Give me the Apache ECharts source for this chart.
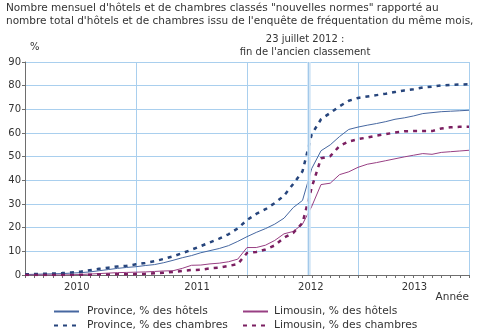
<!DOCTYPE html>
<html>
<head>
<meta charset="utf-8">
<script src="https://cdn.jsdelivr.net/npm/echarts@6/dist/echarts.min.js"></script>
<style>
  html, body { margin: 0; padding: 0; background: #fff; }
  #chart { width: 480px; height: 333px; }
</style>
</head>
<body>
<div id="chart"></div>
<script>
// Monthly shares (%) of hotels / rooms classified under the new standards,
// one value per month, index 0 = January 2010, index 48 = January 2014.
const provinceHotels = [
  0.2, 0.3, 0.4, 0.5, 0.6, 0.8, 1.0, 1.3, 1.8, 2.3, 2.8, 3.2,
  3.5, 4.0, 4.4, 5.2, 6.2, 7.3, 8.2, 9.4, 10.3, 11.2, 12.4, 14.2,
  16.2, 18.0, 19.6, 21.5, 24.0, 28.5, 31.5, 45.0, 52.5, 55.0, 58.5, 61.5,
  62.5, 63.3, 64.0, 64.8, 65.8, 66.4, 67.2, 68.2, 68.6, 69.0, 69.2, 69.4,
  69.6
];
const provinceRooms = [
  0.3, 0.4, 0.5, 0.6, 0.8, 1.1, 1.4, 2.0, 2.6, 3.1, 3.6, 3.9,
  4.5, 5.1, 5.8, 6.8, 7.9, 9.2, 10.7, 12.2, 13.8, 15.4, 17.2, 19.7,
  23.2, 25.8, 27.8, 30.4, 33.5, 38.5, 43.8, 59.5, 65.8, 68.5, 71.3, 73.6,
  74.8, 75.4, 76.0, 76.6, 77.3, 78.0, 78.5, 79.2, 79.6, 80.1, 80.3, 80.5,
  80.6
];
const limousinHotels = [
  0.0, 0.0, 0.0, 0.0, 0.0, 0.1, 0.2, 0.4, 0.6, 0.8, 1.0, 1.1,
  1.2, 1.3, 1.5, 1.7, 1.8, 2.8, 4.1, 4.2, 4.7, 5.0, 5.6, 6.7,
  11.6, 11.6, 12.6, 14.6, 17.4, 18.4, 21.5, 29.0, 38.2, 38.8, 42.4, 43.6,
  45.5, 46.8, 47.5, 48.3, 49.1, 49.9, 50.6, 51.3, 51.0, 51.8, 52.1, 52.4,
  52.7
];
const limousinRooms = [
  0.0, 0.0, 0.0, 0.0, 0.0, 0.0, 0.1, 0.1, 0.2, 0.2, 0.3, 0.3,
  0.4, 0.5, 0.7, 0.9, 1.3, 1.7, 2.1, 2.2, 2.8, 3.1, 3.8, 4.6,
  9.3, 9.7, 10.8, 12.5, 15.8, 17.8, 22.0, 37.0, 49.3, 50.2, 54.5, 56.4,
  57.4, 58.1, 58.9, 59.5, 60.2, 60.7, 60.8, 60.8, 60.8, 61.9, 62.4, 62.6,
  62.6
];

// Year labels and where they sit on the month scale
const yearLabels = ['2010', '2011', '2012', '2013'];
const yearLabelPos = [5.6, 18.6, 30.9, 42.1];
// 23 July 2012 on the month scale
const reformDate = 30.71;
const reformText = ['23 juillet 2012 :', "fin de l'ancien classement"];

const seriesNames = [
  'Province, % des hôtels',
  'Province, % des chambres',
  'Limousin, % des hôtels',
  'Limousin, % des chambres'
];

const FONT = 'DejaVu Sans, Verdana, sans-serif';
const TEXT = '#333333';
const GRID = '#a9cfee';
const AXIS = '#6e6e6e';

function toPairs(values) {
  return values.map((v, i) => [i, v]);
}

const chart = echarts.init(document.getElementById('chart'), null, { renderer: 'canvas' });

function lineSeries(name, values, color, dashed) {
  return {
    name: name,
    type: 'line',
    xAxisIndex: 0,
    yAxisIndex: 0,
    data: toPairs(values),
    symbol: 'none',
    smooth: false,
    silent: true,
    z: dashed ? 4 : 3,
    lineStyle: dashed
      ? { color: color, width: 2.5, type: [4, 5] }
      : { color: color, width: 1, type: 'solid' },
    itemStyle: { color: color },
    emphasis: { disabled: true }
  };
}

const series = [
  lineSeries(seriesNames[0], provinceHotels, '#4667a0', false),
  lineSeries(seriesNames[1], provinceRooms, '#27457c', true),
  lineSeries(seriesNames[2], limousinHotels, '#983f83', false),
  lineSeries(seriesNames[3], limousinRooms, '#7b1f61', true)
];

// Band marking the end of the old classification
series[0].markLine = {
  silent: true,
  symbol: 'none',
  animation: false,
  data: [
    {
      xAxis: reformDate,
      lineStyle: { color: '#d3e6f6', width: 3.5, type: 'solid' },
      label: {
        show: true,
        position: 'end',
        distance: 3,
        formatter: reformText.join('\n'),
        color: TEXT,
        fontFamily: FONT,
        fontSize: 10,
        lineHeight: 13,
        padding: [0, 8, 0, 0]
      }
    },
    {
      xAxis: reformDate - 0.08,
      lineStyle: { color: '#a3c9ea', width: 1, type: 'solid' },
      label: { show: false }
    }
  ]
};

const legendBase = {
  orient: 'vertical',
  top: 306,
  padding: 0,
  itemWidth: 25,
  itemHeight: 10,
  itemGap: 3,
  selectedMode: false,
  // keep only the line sample, no marker dot
  itemStyle: { opacity: 0 }
};

const option = {
  animation: false,
  backgroundColor: '#ffffff',
  textStyle: { fontFamily: FONT },
  title: {
    text: 'Nombre mensuel d\'hôtels et de chambres classés "nouvelles normes" rapporté au\n' +
          'nombre total d\'hôtels et de chambres issu de l\'enquête de fréquentation du même mois,',
    left: 6,
    top: 2,
    padding: 0,
    textStyle: {
      fontFamily: FONT,
      fontSize: 10.5,
      fontWeight: 'normal',
      color: TEXT,
      lineHeight: 13
    }
  },
  legend: [
    Object.assign({}, legendBase, {
      data: [seriesNames[0], seriesNames[1]],
      left: 53,
      textStyle: { fontFamily: FONT, fontSize: 10.7, color: TEXT, padding: [0, 0, 0, 3] }
    }),
    Object.assign({}, legendBase, {
      data: [seriesNames[2], seriesNames[3]],
      left: 242,
      textStyle: { fontFamily: FONT, fontSize: 10.7, color: TEXT, padding: [0, 0, 0, 1] }
    })
  ],
  grid: {
    left: 25,
    right: 11,
    top: 62,
    bottom: 58,
    containLabel: false
  },
  xAxis: [
    {
      // yearly vertical grid lines
      type: 'value',
      min: 0,
      max: 48,
      interval: 12,
      position: 'bottom',
      axisLine: { show: false },
      axisTick: { show: false },
      axisLabel: { show: false },
      splitLine: { show: true, lineStyle: { color: GRID, width: 1 } }
    },
    {
      // monthly ticks and year labels
      type: 'value',
      min: 0,
      max: 48,
      interval: 1,
      position: 'bottom',
      offset: 0,
      name: 'Année',
      nameLocation: 'end',
      nameGap: 0,
      nameTextStyle: {
        fontFamily: FONT,
        fontSize: 10.5,
        color: TEXT,
        align: 'right',
        verticalAlign: 'top',
        padding: [17, 0, 0, 0]
      },
      axisLine: { show: true, lineStyle: { color: AXIS, width: 1 } },
      axisTick: { show: true, length: 3, lineStyle: { color: AXIS } },
      splitLine: { show: false },
      axisLabel: {
        show: true,
        customValues: yearLabelPos,
        formatter: function (v) {
          const k = yearLabelPos.indexOf(v);
          return k >= 0 ? yearLabels[k] : '';
        },
        margin: 7,
        fontFamily: FONT,
        fontSize: 10,
        color: TEXT
      }
    }
  ],
  yAxis: {
    type: 'value',
    min: 0,
    max: 90,
    interval: 10,
    name: '%',
    nameLocation: 'end',
    nameGap: 10,
    nameTextStyle: {
      fontFamily: FONT,
      fontSize: 10,
      color: TEXT,
      align: 'left',
      padding: [0, 0, 0, 5]
    },
    axisLine: { show: true, lineStyle: { color: AXIS, width: 1 } },
    axisTick: { show: true, length: 3, lineStyle: { color: AXIS } },
    axisLabel: {
      margin: 4,
      fontFamily: FONT,
      fontSize: 10,
      color: TEXT
    },
    splitLine: { show: true, lineStyle: { color: GRID, width: 1 } }
  },
  series: series
};

chart.setOption(option);
</script>
</body>
</html>
